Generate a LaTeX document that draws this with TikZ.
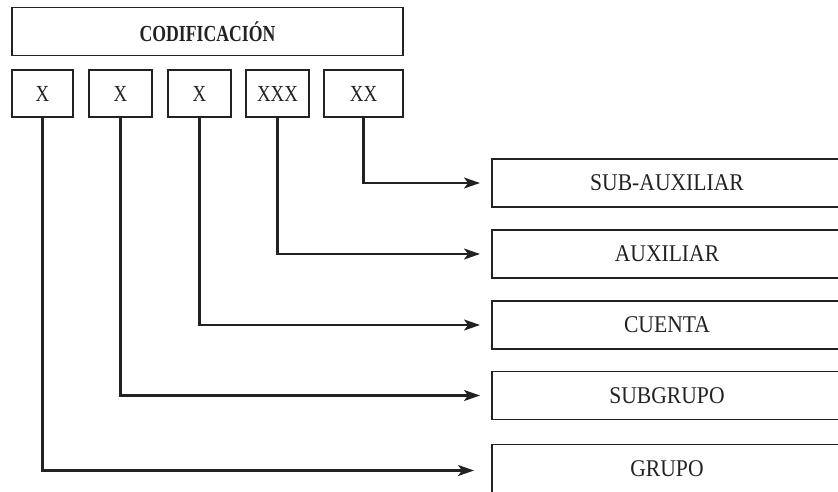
\documentclass[tikz,border=0pt]{standalone}
\usepackage{fontspec}
\setmainfont{Liberation Serif}
\newfontfamily\levelfont[FakeStretch=0.9]{Liberation Serif}
\newfontfamily\condfont[FakeStretch=0.82]{Liberation Serif}
\newfontfamily\boldcond[FakeStretch=0.77]{Liberation Serif Bold}
\usetikzlibrary{arrows.meta}
\definecolor{ink}{HTML}{222222}
\begin{document}
\begin{tikzpicture}[x=1pt,y=-1pt,
  box/.style={draw=ink,line width=1.2pt,inner sep=0pt,outer sep=0pt,text=ink},
  small/.style={box,minimum height=47pt,font=\condfont\fontsize{23}{26}\selectfont},
  level/.style={box,minimum width=350pt,minimum height=48pt,anchor=north west,font=\levelfont\fontsize{24}{26}\selectfont},
  conn/.style={draw=ink,line width=2.2pt,-{Stealth[length=16pt,width=11pt,inset=4pt]},shorten >=12pt}]
\useasboundingbox (0,0) rectangle (838,492);
\clip (0,0) rectangle (838,492);
\node[box,minimum width=391pt,minimum height=48pt,anchor=north west,font=\boldcond\fontsize{23}{26}\selectfont] (cod) at (12,7.5) {CODIFICACIÓN};
\node[small,minimum width=61pt,anchor=north west] (b1) at (12,70) {X};
\node[small,minimum width=63pt,anchor=north west] (b2) at (89,70) {X};
\node[small,minimum width=63pt,anchor=north west] (b3) at (168,70) {X};
\node[small,minimum width=63pt,anchor=north west] (b4) at (246,70) {XXX};
\node[small,minimum width=79pt,anchor=north west] (b5) at (324,70) {XX};
\node[level] (sa) at (492,159) {SUB-AUXILIAR};
\node[level] (au) at (492,230) {AUXILIAR};
\node[level] (cu) at (492,301) {CUENTA};
\node[level] (sg) at (492,371.5) {SUBGRUPO};
\node[level] (gr) at (492,444.5) {GRUPO};
\draw[conn] (b5.south) |- (sa.west);
\draw[conn] (b4.south) |- (au.west);
\draw[conn] (b3.south) |- (cu.west);
\draw[conn] (b2.south) |- (sg.west);
\draw[conn,shorten >=18pt] (b1.south) |- ([yshift=-2pt]gr.west);
\end{tikzpicture}
\end{document}
